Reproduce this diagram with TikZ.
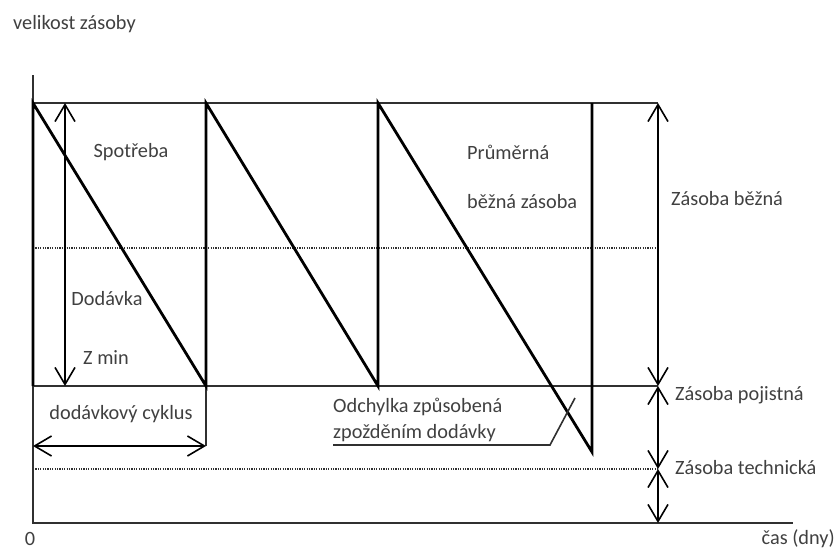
\documentclass[tikz,border=0pt]{standalone}
\usepackage{fontspec}
\setmainfont{Carlito}
\usetikzlibrary{arrows.meta}
\definecolor{txt}{HTML}{404040}
\definecolor{ln}{HTML}{303030}
\begin{document}
\begin{tikzpicture}[x=1pt,y=-1pt,
  lbl/.style={text=txt,font=\fontsize{20.3}{23}\selectfont,inner sep=0pt},
  sawline/.style={line width=2.8pt,black,line join=miter},
  fine/.style={line width=1.6pt,ln},
  dotline/.style={line width=1.6pt,ln,dash pattern=on 1.2pt off 1.2pt},
  dim/.style={line width=1.6pt,black,{Straight Barb[length=17pt,width=20pt]}-{Straight Barb[length=17pt,width=20pt]}}
]
\useasboundingbox (0,0) rectangle (838,552);
% key points
\coordinate (Ytop) at (33,75);
\coordinate (O) at (33,523);
\coordinate (Xend) at (793,523);
\coordinate (T0) at (33,103);  \coordinate (Tr) at (658,103);
\coordinate (M0) at (33,248);  \coordinate (Mr) at (656,248);
\coordinate (B0) at (33,386);  \coordinate (Br) at (658,386);
\coordinate (K0) at (33,469);  \coordinate (Kr) at (658,469);
\coordinate (S1) at (206,386); \coordinate (S1t) at (206,103);
\coordinate (S2) at (378,386); \coordinate (S2t) at (378,103);
\coordinate (S3) at (592,452); \coordinate (S3t) at (592,103);
\coordinate (Cyc) at (206,446); \coordinate (Cyc0) at (33,446);
\coordinate (Da) at (65,103);  \coordinate (Db) at (65,386);
\coordinate (L0) at (333,445); \coordinate (L1) at (550,445); \coordinate (L2) at (575,398);

% axes and grid lines
\draw[fine] (Ytop) -- (O) -- (Xend);
\draw[fine] (T0) -- (Tr);
\draw[fine] (B0) -- (Br);
\draw[dotline] (M0) -- (Mr);
\draw[dotline] (K0) -- (Kr);
\draw[fine] (S1) -- (Cyc);

% sawtooth
\draw[sawline] (B0) -- (T0) -- (S1) -- (S1t) -- (S2) -- (S2t) -- (S3) -- (S3t);

% dimension arrows
\draw[dim] (Da) -- (Db);
\draw[dim] (Cyc0) -- (Cyc);
\draw[dim] (Tr) -- (Br);
\draw[dim] (Br) -- (Kr);
\draw[dim] (Kr) -- (Xend -| Kr);

% leader
\draw[fine] (L0) -- (L1) -- (L2);

% labels
\node[lbl,anchor=west] (ylab) at (13,24) {velikost zásoby};
\node[lbl] (spot) at (131,152) {Spotřeba};
\node[lbl] (dod) at (107,299) {Dodávka};
\node[lbl] (zmin) at (106,358) {Z min};
\node[lbl,anchor=west] (prum) at (467,152) {Průměrná};
\node[lbl,anchor=west] (bz) at (467,202) {běžná zásoba};
\node[lbl,anchor=west] (zb) at (671,199) {Zásoba běžná};
\node[lbl,anchor=west] (zp) at (675,395) {Zásoba pojistná};
\node[lbl,anchor=west] (zt) at (675,468) {Zásoba technická};
\node[lbl] (cyk) at (121,414) {dodávkový cyklus};
\node[lbl,anchor=west] (odch1) at (333,407) {Odchylka způsobená};
\node[lbl,anchor=west] (odch2) at (333,433) {zpožděním dodávky};
\node[lbl] (zero) at (30,539) {0};
\node[lbl,anchor=east] (cas) at (835,539) {čas (dny)};
\end{tikzpicture}
\end{document}
